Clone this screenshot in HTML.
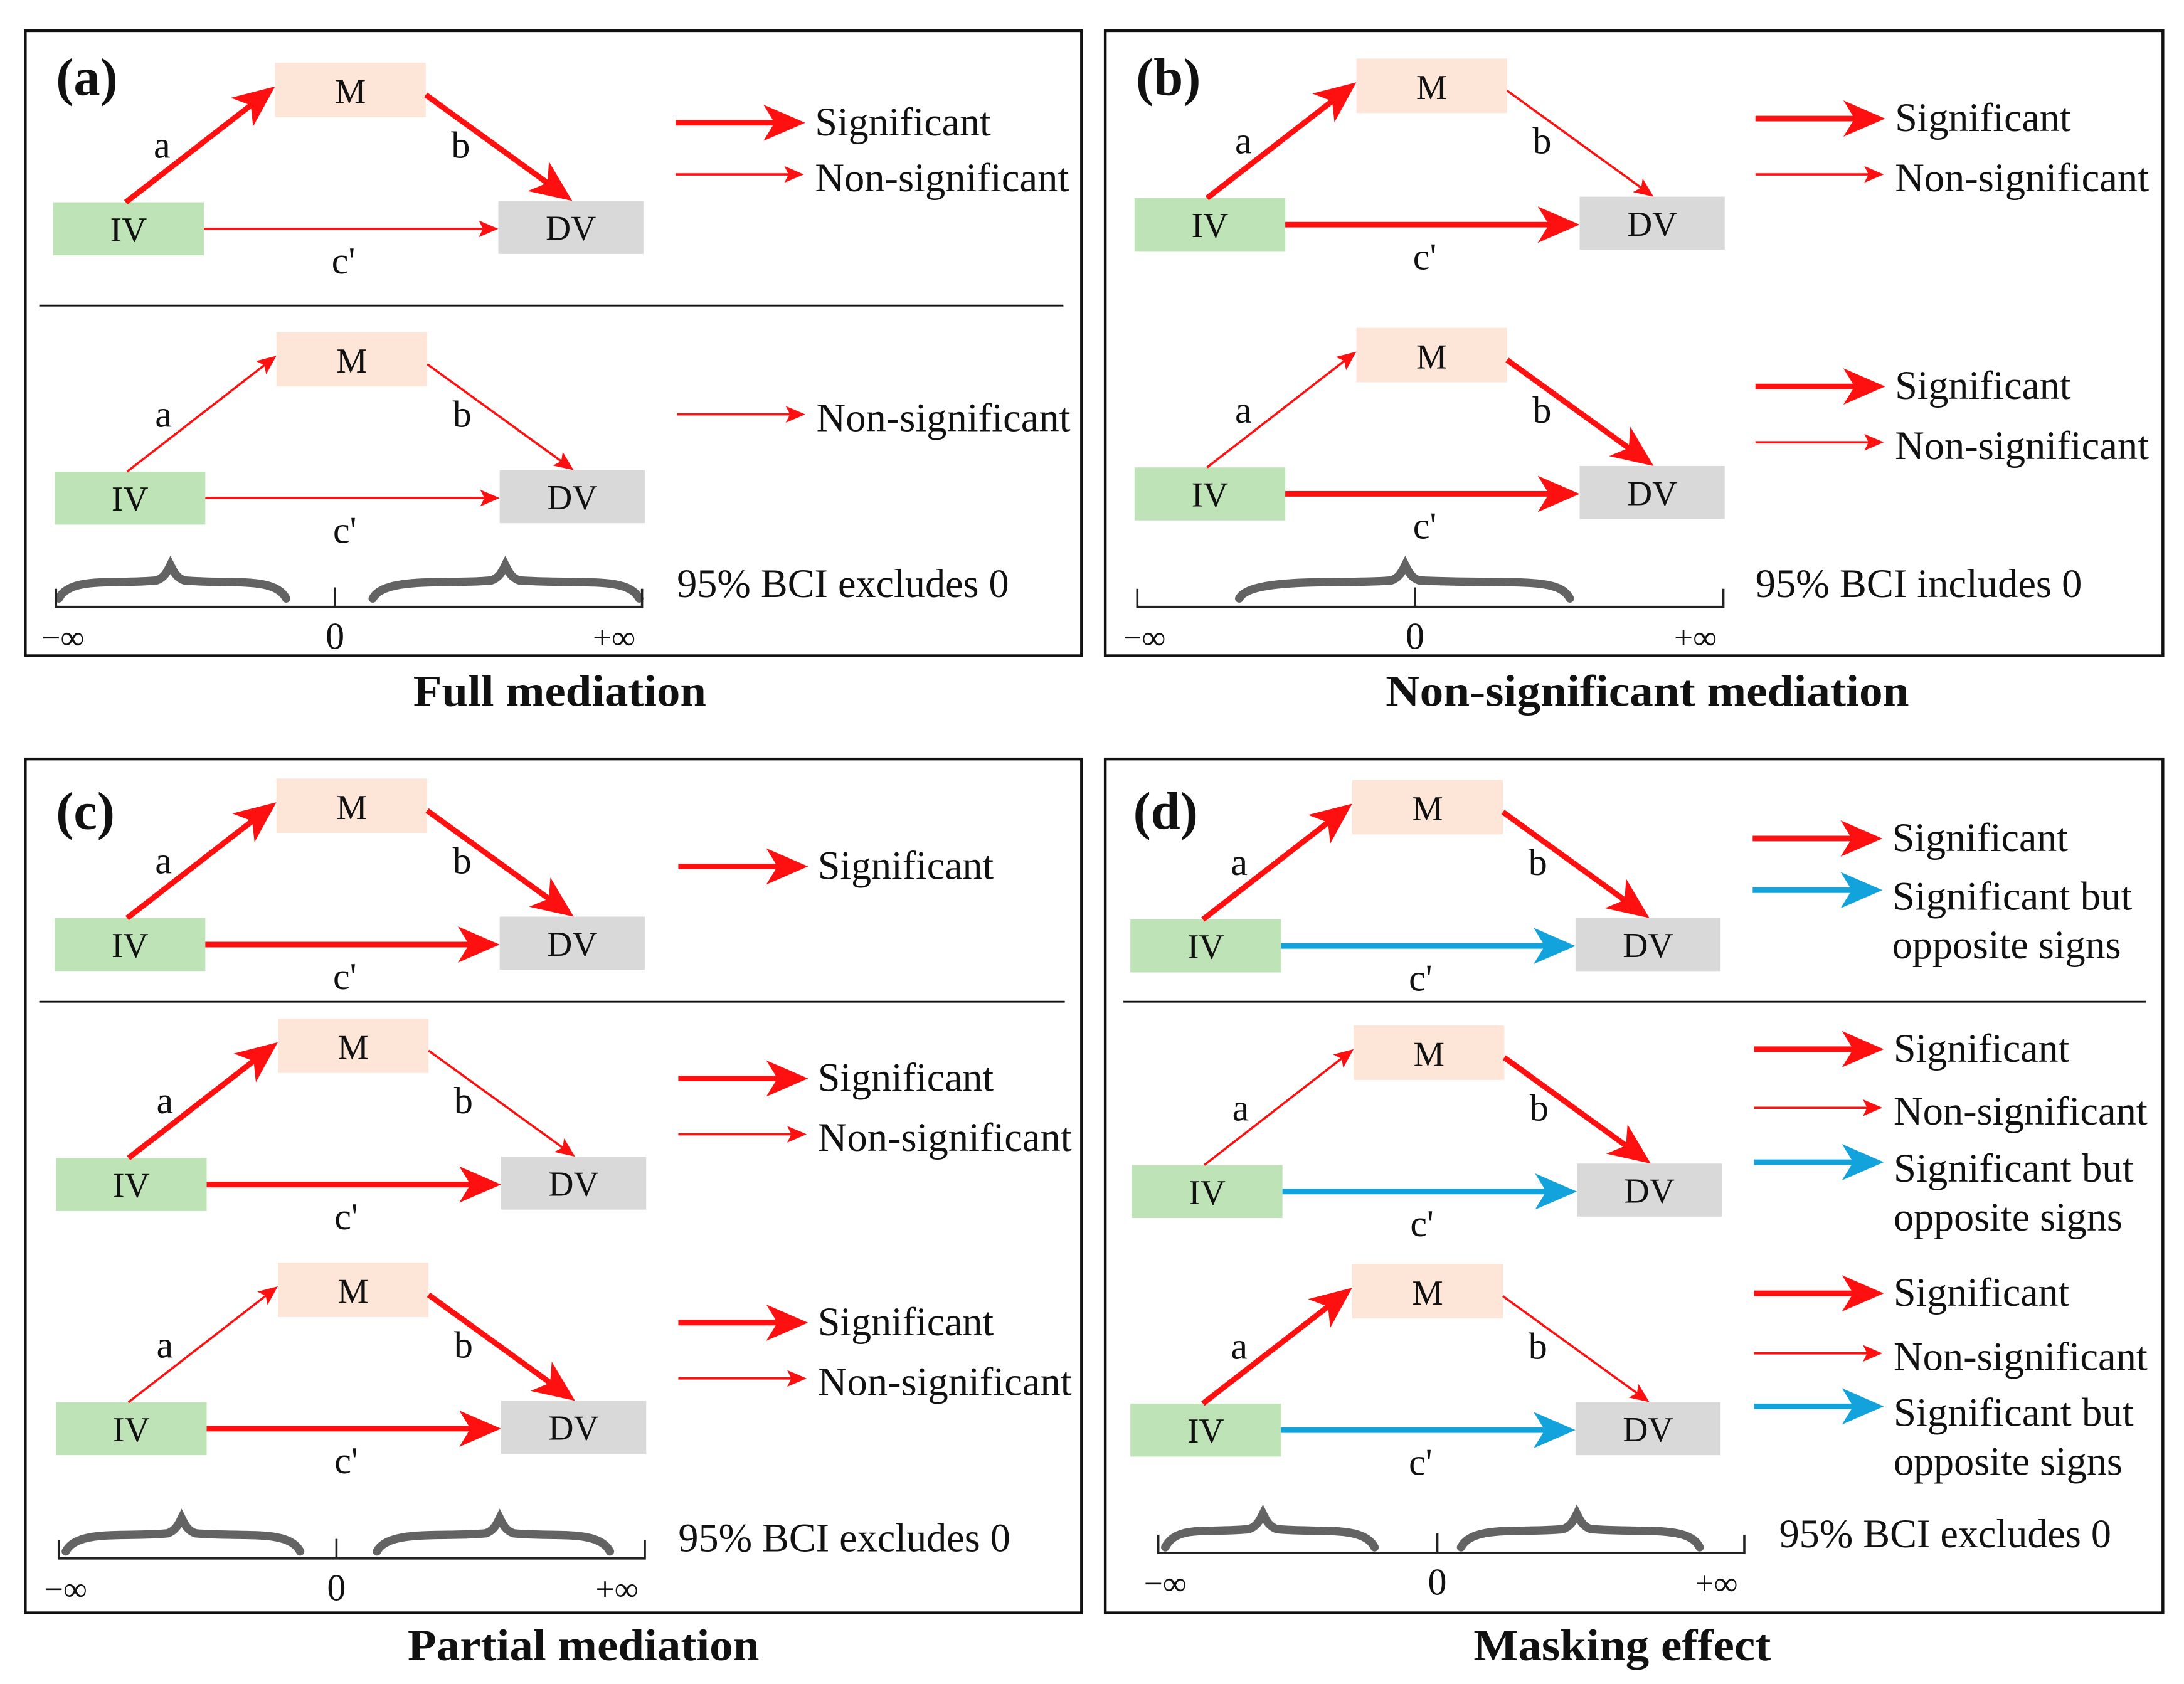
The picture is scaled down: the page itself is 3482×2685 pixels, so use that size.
<!DOCTYPE html>
<html><head><meta charset="utf-8">
<style>
html,body{margin:0;padding:0;background:#fff;}
svg{display:block;}
text{font-family:"Liberation Serif",serif;fill:#111;}
</style></head>
<body>
<svg id="s" xmlns="http://www.w3.org/2000/svg" width="3482" height="2685" viewBox="0 0 1565 1207">
<rect width="1565" height="1207" fill="#fff"/>
</svg>
<script>
const S=document.getElementById('s');let h='';
const RED='#ff1010',BLUE='#12a3dd';
function arrow(x1,y1,x2,y2,thick,col){
  col=col||RED;
  const dx=x2-x1,dy=y2-y1,L=Math.hypot(dx,dy),ux=dx/L,uy=dy/L,px=-uy,py=ux;
  const len=thick?30:14,hw=thick?13:6,ins=thick?8:3,sw=thick?4:1.6;
  const bx=x2-ux*len,by=y2-uy*len;
  const ix=x2-ux*(len-ins),iy=y2-uy*(len-ins);
  h+=`<line x1="${x1}" y1="${y1}" x2="${ix}" y2="${iy}" stroke="${col}" stroke-width="${sw}"/>`;
  h+=`<polygon points="${x2},${y2} ${bx+px*hw},${by+py*hw} ${ix},${iy} ${bx-px*hw},${by-py*hw}" fill="${col}"/>`;
}
function t(x,y,s,size,anchor,bold,len){
  h+=`<text x="${x}" y="${y}" font-size="${size||26}" ${anchor?`text-anchor="${anchor}"`:''} ${bold?'font-weight="bold"':''} ${len?`textLength="${len}" lengthAdjust="spacingAndGlyphs"`:''}>${s}</text>`;
}
function diag(x,y,sa,sb,sc,blue){
  h+=`<rect x="${x}" y="${y}" width="108" height="38" fill="#bde3b6"/>`;
  h+=`<rect x="${x+159}" y="${y-100}" width="108" height="39" fill="#fde5d8"/>`;
  h+=`<rect x="${x+319}" y="${y-1}" width="104" height="38" fill="#d9d9d9"/>`;
  t(x+54,y+28,'IV',25,'middle');t(x+213,y-71,'M',25,'middle');t(x+371,y+27,'DV',25,'middle');
  arrow(x+52,y,x+159,y-83,sa);
  arrow(x+267,y-77,x+372,y-1,sb);
  arrow(x+108,y+19,x+319,y+19,sc,blue?BLUE:RED);
  t(x+78,y-32,'a',27,'middle');t(x+292,y-32,'b',27,'middle');t(x+208,y+51,"c'",27,'middle');
}
function leg(x,y,type){
  if(type=='s'){arrow(x,y,x+93,y,1);t(x+100,y+9,'Significant',29,'',0,126);}
  else if(type=='n'){arrow(x,y,x+92,y,0);t(x+100,y+12,'Non-significant',29,'',0,182);}
  else {arrow(x,y,x+93,y,1,BLUE);t(x+100,y+14,'Significant but',29,'',0,172);t(x+100,y+49,'opposite signs',29,'',0,164);}
}
function brace(x1,x2,mid,y){
  h+=`<path d="M${x1},${y+24} C${x1+8},${y+8} ${mid-40},${y+14} ${mid-10},${y+11} C${mid-4},${y+9} ${mid-2},${y+4} ${mid},${y} C${mid+2},${y+4} ${mid+4},${y+9} ${mid+10},${y+11} C${x2-40},${y+14} ${x2-8},${y+8} ${x2},${y+24}" fill="none" stroke="#636363" stroke-width="6" stroke-linecap="round"/>`;
}
function axis(x1,x0,x2,y){
  h+=`<path d="M${x1},${y-13} V${y} H${x2} V${y-13} M${x0},${y} V${y-14}" fill="none" stroke="#222" stroke-width="1.6"/>`;
  t(x1+5,y+30,'−∞',24,'middle');t(x0,y+30,'0',27,'middle');t(x2-20,y+30,'+∞',24,'middle');
}
function panel(x1,y1,x2,y2){h+=`<rect x="${x1}" y="${y1}" width="${x2-x1}" height="${y2-y1}" fill="none" stroke="#111" stroke-width="2"/>`;}
panel(18,22,775,470);panel(792,22,1550,470);panel(18,544,775,1156);panel(792,544,1550,1156);
h+=`<line x1="28" y1="219" x2="762" y2="219" stroke="#111" stroke-width="1.3"/>`;
h+=`<line x1="28" y1="718" x2="763" y2="718" stroke="#111" stroke-width="1.3"/>`;
h+=`<line x1="805" y1="718" x2="1538" y2="718" stroke="#111" stroke-width="1.3"/>`;
t(40,68,'(a)',38,'',1);t(814,68,'(b)',38,'',1);t(40,594,'(c)',38,'',1);t(812,594,'(d)',38,'',1);
t(296,506,'Full mediation',32,'',1,210);t(993,506,'Non-significant mediation',32,'',1,375);
t(292,1190,'Partial mediation',32,'',1,252);t(1056,1190,'Masking effect',32,'',1,213);
// a
diag(38,145,1,1,0);diag(39,338,0,0,0);
leg(484,88,'s');leg(484,125,'n');leg(485,297,'n');
brace(42,205,122,405);brace(267,458,362,405);axis(40,240,460,435);t(485,428,'95% BCI excludes 0',29,'',0,238);
// b
diag(813,142,1,0,1);diag(813,335,0,1,1);
leg(1258,85,'s');leg(1258,125,'n');leg(1258,277,'s');leg(1258,317,'n');
brace(888,1125,1007,405);axis(815,1014,1235,435);t(1258,428,'95% BCI includes 0',29,'',0,234);
// c
diag(39,658,1,1,1);diag(40,830,1,0,1);diag(40,1005,0,1,1);
leg(486,621,'s');leg(486,773,'s');leg(486,813,'n');leg(486,948,'s');leg(486,988,'n');
brace(47,215,130,1088);brace(270,437,358,1088);axis(42,241,462,1117);t(486,1112,'95% BCI excludes 0',29,'',0,238);
// d
diag(810,659,1,1,1,1);diag(811,835,0,1,1,1);diag(810,1006,1,0,1,1);
leg(1256,601,'s');leg(1256,638,'b');
leg(1257,752,'s');leg(1257,794,'n');leg(1257,833,'b');
leg(1257,927,'s');leg(1257,970,'n');leg(1257,1008,'b');
brace(835,985,905,1085);brace(1047,1218,1130,1085);axis(830,1030,1250,1113);t(1275,1109,'95% BCI excludes 0',29,'',0,238);
S.insertAdjacentHTML('beforeend',h);
</script>
</body></html>
